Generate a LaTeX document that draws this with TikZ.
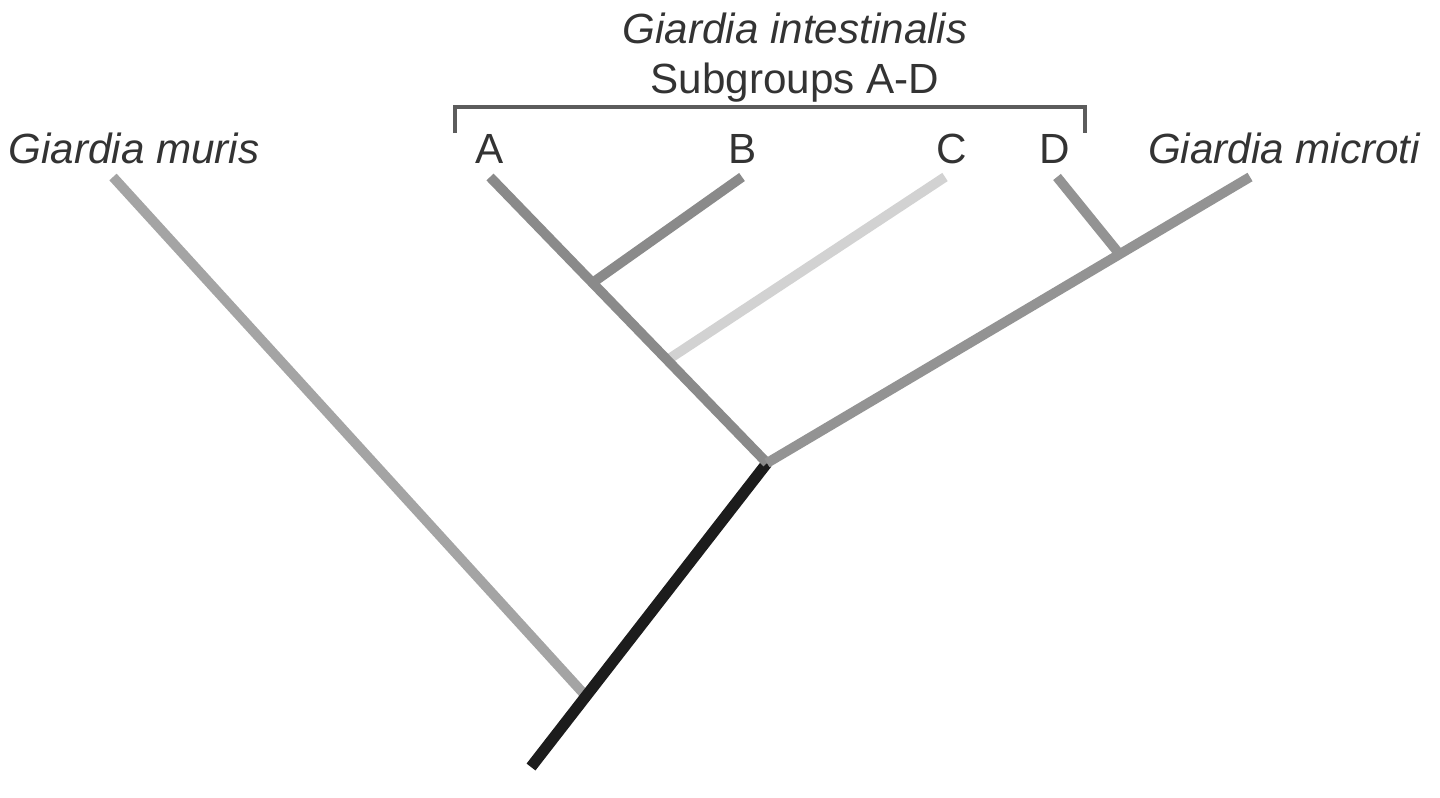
\documentclass[tikz,border=0pt]{standalone}
\usepackage{fontspec}
\setmainfont{Liberation Sans}
\usetikzlibrary{calc}

\definecolor{stem}{HTML}{1C1C1C}
\definecolor{murisgray}{HTML}{A4A4A4}
\definecolor{intgray}{HTML}{8A8A8A}
\definecolor{cgray}{HTML}{D2D2D2}
\definecolor{micgray}{HTML}{939393}
\definecolor{labelgray}{HTML}{333333}

\begin{document}
\begin{tikzpicture}[x=0.01cm,y=-0.01cm,
  branch/.style={line width=2.8pt},
  taxon/.style={font=\fontsize{12}{14}\selectfont,text=labelgray,inner sep=0pt,anchor=base},
  species/.style={taxon,font=\fontsize{12}{14}\selectfont\itshape}]
\useasboundingbox (0,0) rectangle (1440,797);

% branch points and tips
\coordinate (root) at (531,767);
\coordinate (core) at (767,463);
\coordinate (nMuris) at ($(root)!0.233!(core)$);
\coordinate (tipMuris) at (113,177);
\coordinate (tipA) at (490,177);
\coordinate (tipB) at (742,177);
\coordinate (tipC) at (945,177);
\coordinate (tipD) at (1057,177);
\coordinate (tipMicroti) at (1250,177);
\coordinate (nB) at ($(tipA)!0.37!(core)$);
\coordinate (nC) at ($(tipA)!0.64!(core)$);
\coordinate (nD) at ($(tipMicroti)!0.27!(core)$);

% labels
\node[species] (lblMuris) at (134,163) {Giardia muris};
\node[species] (lblMicroti) at (1284,163) {Giardia microti};
\node[taxon] (lblA) at (490,163) {A};
\node[taxon] (lblB) at (743,163) {B};
\node[taxon] (lblC) at (952,163) {C};
\node[taxon] (lblD) at (1055,163) {D};
\node[species] (lblIntest) at (795,43) {Giardia intestinalis};
\node[taxon] (lblSub) at (795,93) {Subgroups A-D};

% bracket over A-D
\draw[labelgray!80,line width=0.9pt] (455,133) -- (455,107) -- (1085,107) -- (1085,133);

% tree
\draw[branch,murisgray] (tipMuris) -- (nMuris);
\draw[branch,stem,line width=3.2pt] (root) -- (core);
\draw[branch,cgray] (tipC) -- (nC);
\draw[branch,intgray] (tipB) -- (nB);
\draw[branch,intgray] (tipA) -- (core);
\draw[branch,micgray] (tipD) -- (nD);
\draw[branch,micgray] (tipMicroti) -- (core);

\end{tikzpicture}
\end{document}
